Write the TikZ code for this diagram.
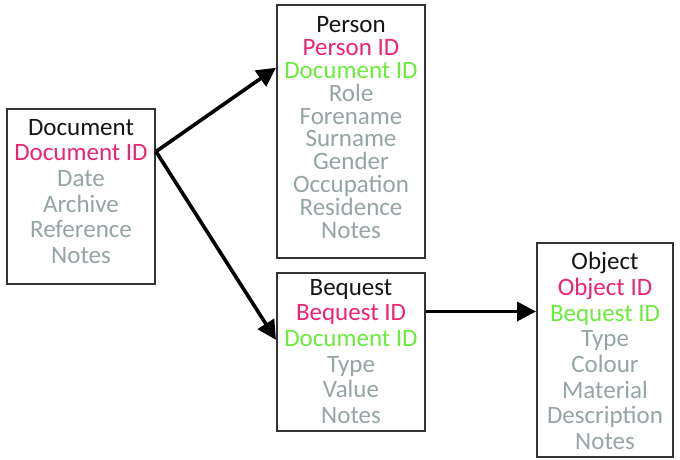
\documentclass[tikz,border=0pt]{standalone}
\usepackage{fontspec}
\setmainfont{Carlito}
\usetikzlibrary{arrows.meta,calc}
\definecolor{pk}{HTML}{EC2474}
\definecolor{gn}{HTML}{6AEC3A}
\definecolor{gy}{HTML}{95A5A5}
\definecolor{bd}{HTML}{333333}
\definecolor{tt}{HTML}{151515}
\begin{document}
\begin{tikzpicture}[x=1pt,y=1pt,
  entity/.style={draw=bd, line width=2pt, fill=white, inner sep=0pt},
  fields/.style={align=center, inner sep=0pt, text=gy},
  wide/.style={font=\fontsize{25}{25.7}\selectfont},
  tight/.style={font=\fontsize{25}{22.8}\selectfont},
  arr/.style={line width=3.6pt, -{Triangle[length=19pt,width=19pt]}, black}]
\useasboundingbox (0,0) rectangle (680,459);
\node[entity, minimum width=148pt, minimum height=175pt] (doc) at (81,262.5) {};
\node[entity, minimum width=148pt, minimum height=253pt] (person) at (351,327.5) {};
\node[entity, minimum width=148pt, minimum height=158pt] (bequest) at (351,107) {};
\node[entity, minimum width=136pt, minimum height=214pt] (object) at (605,109) {};
\node[fields, wide] (docT) at (81,267.5)
  {\textcolor{tt}{Document}\\\textcolor{pk}{Document ID}\\Date\\Archive\\Reference\\Notes};
\node[fields, tight] (personT) at (351,331.5)
  {\textcolor{tt}{Person}\\\textcolor{pk}{Person ID}\\\textcolor{gn}{Document ID}\\Role\\Forename\\Surname\\Gender\\Occupation\\Residence\\Notes};
\node[fields, wide] (bequestT) at (351,107.5)
  {\textcolor{tt}{Bequest}\\\textcolor{pk}{Bequest ID}\\\textcolor{gn}{Document ID}\\Type\\Value\\Notes};
\node[fields, wide] (objectT) at (605,108)
  {\textcolor{tt}{Object}\\\textcolor{pk}{Object ID}\\\textcolor{gn}{Bequest ID}\\Type\\Colour\\Material\\Description\\Notes};
\coordinate (src) at ($(doc.north east)!0.246!(doc.south east)$);
\coordinate (ptgt) at ($(person.north west)!0.25!(person.south west)$);
\coordinate (btgt) at ($(bequest.north west)!0.424!(bequest.south west)$);
\coordinate (bsrc) at ($(bequest.north east)!0.247!(bequest.south east)$);
\draw[arr] (src) -- (ptgt);
\draw[arr] (src) -- (btgt);
\draw[arr] (bsrc) -- (bsrc -| object.west);
\end{tikzpicture}
\end{document}
